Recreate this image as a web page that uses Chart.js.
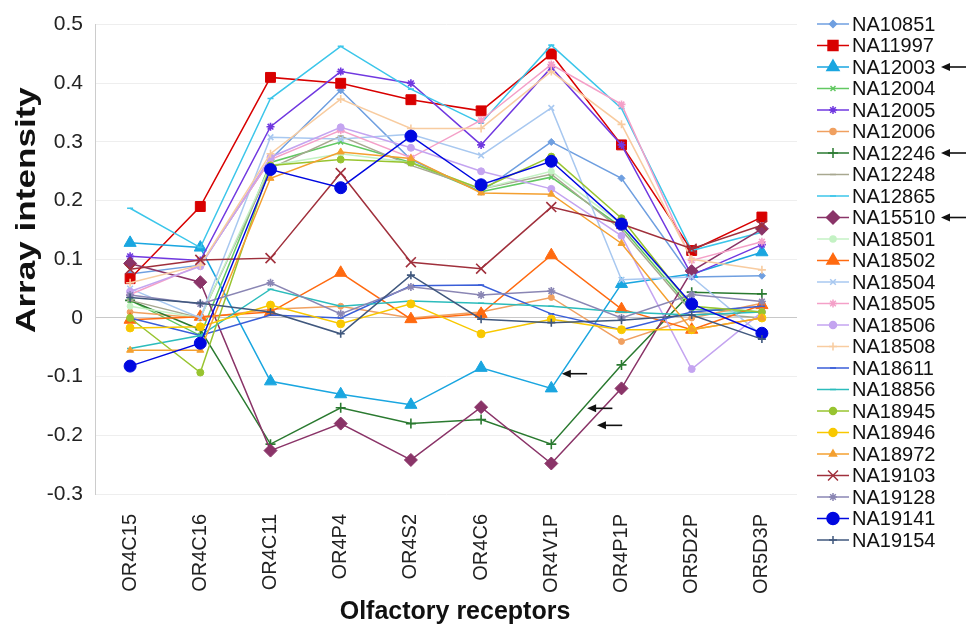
<!DOCTYPE html>
<html>
<head>
<meta charset="utf-8">
<script src="https://cdn.jsdelivr.net/npm/chart.js@4.4.1/dist/chart.umd.min.js"></script>
<style>
body { margin: 0; background: #fff; }
</style>
</head>
<body>
<canvas id="myChart" width="966" height="627"></canvas>
<script>
var receptors = ['OR4C15', 'OR4C16', 'OR4C11', 'OR4P4', 'OR4S2', 'OR4C6', 'OR4V1P', 'OR4P1P', 'OR5D2P', 'OR5D3P'];

// array intensity per sample, one value per receptor
var na10851 = [0.075, 0.09, 0.27, 0.388, 0.27, 0.215, 0.30, 0.238, 0.07, 0.072];
var na11997 = [0.067, 0.19, 0.41, 0.40, 0.372, 0.353, 0.45, 0.295, 0.115, 0.172];
var na12003 = [0.128, 0.12, -0.108, -0.13, -0.148, -0.085, -0.12, 0.058, 0.075, 0.112];
var na12004 = [0.03, -0.03, 0.265, 0.30, 0.265, 0.215, 0.24, 0.155, 0.015, 0.01];
var na12005 = [0.105, 0.098, 0.326, 0.42, 0.40, 0.295, 0.427, 0.295, 0.073, 0.125];
var na12006 = [0.01, 0.0, 0.015, 0.02, 0.0, 0.01, 0.035, -0.04, 0.0, 0.025];
var na12246 = [0.03, -0.02, -0.215, -0.153, -0.18, -0.173, -0.215, -0.08, 0.044, 0.041];
var na12248 = [0.03, 0.0, 0.255, 0.31, 0.26, 0.22, 0.245, 0.15, 0.01, 0.0];
var na12865 = [0.187, 0.12, 0.374, 0.463, 0.39, 0.332, 0.465, 0.357, 0.115, 0.146];
var na15510 = [0.093, 0.061, -0.226, -0.18, -0.242, -0.152, -0.248, -0.12, 0.08, 0.152];
var na18501 = [0.02, 0.0, 0.26, 0.28, 0.265, 0.22, 0.25, 0.16, 0.02, 0.01];
var na18502 = [-0.003, 0.002, 0.01, 0.077, -0.002, 0.007, 0.107, 0.015, -0.02, 0.022];
var na18504 = [0.05, 0.0, 0.308, 0.305, 0.313, 0.277, 0.358, 0.065, 0.07, -0.03];
var na18505 = [0.04, 0.09, 0.27, 0.32, 0.273, 0.337, 0.432, 0.364, 0.098, 0.13];
var na18506 = [0.045, 0.088, 0.274, 0.325, 0.29, 0.25, 0.22, 0.14, -0.087, 0.01];
var na18508 = [0.06, 0.09, 0.28, 0.373, 0.323, 0.323, 0.42, 0.33, 0.1, 0.082];
var na18611 = [0.0, -0.03, 0.005, 0.0, 0.055, 0.056, 0.007, -0.02, 0.01, 0.02];
var na18856 = [-0.052, -0.03, 0.049, 0.02, 0.029, 0.025, 0.02, 0.01, 0.005, 0.01];
var na18945 = [0.0, -0.093, 0.26, 0.27, 0.265, 0.22, 0.275, 0.17, 0.02, 0.01];
var na18946 = [-0.017, -0.015, 0.022, -0.01, 0.024, -0.027, -0.002, -0.02, -0.02, 0.0];
var na18972 = [-0.055, -0.055, 0.238, 0.283, 0.272, 0.213, 0.211, 0.127, -0.02, 0.0];
var na19103 = [0.083, 0.099, 0.102, 0.247, 0.095, 0.084, 0.189, 0.16, 0.118, 0.158];
var na19128 = [0.039, 0.024, 0.06, 0.007, 0.053, 0.039, 0.046, 0.0, 0.04, 0.028];
var na19141 = [-0.082, -0.043, 0.253, 0.222, 0.31, 0.227, 0.267, 0.16, 0.024, -0.026];
var na19154 = [0.035, 0.025, 0.01, -0.027, 0.073, -0.002, -0.008, -0.004, 0.005, -0.036];

var sampleNames = ['NA10851', 'NA11997', 'NA12003', 'NA12004', 'NA12005', 'NA12006', 'NA12246', 'NA12248',
    'NA12865', 'NA15510', 'NA18501', 'NA18502', 'NA18504', 'NA18505', 'NA18506', 'NA18508', 'NA18611',
    'NA18856', 'NA18945', 'NA18946', 'NA18972', 'NA19103', 'NA19128', 'NA19141', 'NA19154'];
var sampleValues = [na10851, na11997, na12003, na12004, na12005, na12006, na12246, na12248,
    na12865, na15510, na18501, na18502, na18504, na18505, na18506, na18508, na18611,
    na18856, na18945, na18946, na18972, na19103, na19128, na19141, na19154];
var highlighted = ['NA12003', 'NA12246', 'NA15510'];

var colors = ['#6f9fe0', '#d80000', '#1aa6e0', '#62c862', '#7038e0', '#f0a060', '#2a7a30', '#a8a890',
    '#3cc6ea', '#8a3468', '#c4f2c4', '#ff6a10', '#a8c8f0', '#f4a0c8', '#c4a4f0', '#f8cca0', '#3a5ed8',
    '#2cbcbc', '#98c430', '#f8c800', '#f4a030', '#a0303c', '#8a86b4', '#0008e0', '#40587e'];
var markers = ['rectRot', 'rect', 'triangle', 'crossRot', 'star', 'circle', 'cross', 'line',
    'line', 'rectRot', 'circle', 'triangle', 'crossRot', 'star', 'circle', 'cross', 'line',
    'line', 'circle', 'circle', 'triangle', 'crossRot', 'star', 'circle', 'cross'];
var markerSizes = [3.5, 7, 7, 3.5, 4, 3, 5, 3, 3, 6.5, 3, 7, 4, 4, 3.5, 4, 3, 3, 3.5, 4, 4, 7, 4, 6, 4];

var font = '"Liberation Sans", Arial, sans-serif';

function arrow(ctx, x0, y0, x1, y1) {
    ctx.strokeStyle = '#111';
    ctx.fillStyle = '#111';
    ctx.lineWidth = 1.6;
    ctx.beginPath();
    ctx.moveTo(x0, y0);
    ctx.lineTo(x1 + 6, y1);
    ctx.stroke();
    ctx.beginPath();
    ctx.moveTo(x1, y1);
    ctx.lineTo(x1 + 9, y1 - 4);
    ctx.lineTo(x1 + 9, y1 + 4);
    ctx.closePath();
    ctx.fill();
}

var extras = {
    id: 'extras',
    afterDraw: function (chart) {
        var ctx = chart.ctx;
        var xs = chart.scales.x, ys = chart.scales.y;
        ctx.save();

        // legend
        chart.data.datasets.forEach(function (ds, i) {
            var y = 24 + i * 21.5;
            ctx.strokeStyle = ds.borderColor;
            ctx.lineWidth = 1.5;
            ctx.beginPath();
            ctx.moveTo(817, y);
            ctx.lineTo(849, y);
            ctx.stroke();
            ctx.fillStyle = ds.pointBackgroundColor;
            Chart.helpers.drawPoint(ctx, {
                pointStyle: ds.pointStyle, radius: ds.pointRadius, rotation: 0, borderWidth: ds.pointBorderWidth
            }, 833, y);
            ctx.fillStyle = '#111';
            ctx.font = '20px ' + font;
            ctx.textAlign = 'left';
            ctx.textBaseline = 'middle';
            ctx.fillText(ds.label, 852, y + 1);
            if (highlighted.indexOf(ds.label) >= 0) {
                arrow(ctx, 966, y, 941, y);
            }
        });

        // arrows in the plot pointing at the highlighted samples
        arrow(ctx, xs.getPixelForValue(6.51), ys.getPixelForValue(-0.095), xs.getPixelForValue(6.15), ys.getPixelForValue(-0.095));
        arrow(ctx, xs.getPixelForValue(6.87), ys.getPixelForValue(-0.154), xs.getPixelForValue(6.51), ys.getPixelForValue(-0.154));
        arrow(ctx, xs.getPixelForValue(7.01), ys.getPixelForValue(-0.183), xs.getPixelForValue(6.65), ys.getPixelForValue(-0.183));

        // axis titles
        ctx.fillStyle = '#111';
        ctx.textAlign = 'center';
        ctx.textBaseline = 'middle';
        ctx.font = 'bold 25px ' + font;
        ctx.fillText('Olfactory receptors', 455, 612);

        ctx.translate(28, 210);
        ctx.rotate(-Math.PI / 2);
        ctx.scale(1.3, 1);
        ctx.font = 'bold 27px ' + font;
        ctx.fillText('Array intensity', 0, 0);
        ctx.restore();
    }
};

var datasets = sampleNames.map(function (name, i) {
    var stroked = ['cross', 'crossRot', 'star', 'line'].indexOf(markers[i]) >= 0;
    return {
        label: name,
        data: sampleValues[i],
        borderColor: colors[i],
        backgroundColor: colors[i],
        pointBackgroundColor: colors[i],
        pointBorderColor: colors[i],
        pointStyle: markers[i],
        pointRadius: markerSizes[i],
        pointBorderWidth: stroked ? 1.6 : 1,
        borderWidth: 1.5,
        tension: 0,
        order: sampleNames.length - i
    };
});

var ctx = document.getElementById('myChart').getContext('2d');
var myChart = new Chart(ctx, {
    type: 'line',
    data: {
        labels: receptors,
        datasets: datasets
    },
    options: {
        responsive: false,
        animation: false,
        devicePixelRatio: 1,
        layout: { padding: { left: 0, right: 169, top: 21, bottom: 0 } },
        plugins: {
            legend: { display: false },
            tooltip: { enabled: false }
        },
        scales: {
            x: {
                offset: true,
                grid: { display: false },
                border: { display: false },
                ticks: {
                    autoSkip: false,
                    minRotation: 90,
                    maxRotation: 90,
                    padding: 12,
                    color: '#222',
                    font: { size: 20, family: font }
                },
                afterFit: function (scale) { scale.height = 133; }
            },
            y: {
                min: -0.3,
                max: 0.5,
                grid: {
                    drawTicks: false,
                    color: function (c) { return c.tick && c.tick.value === 0 ? '#c8c8c8' : '#eeeeee'; }
                },
                border: { color: '#cccccc' },
                ticks: {
                    stepSize: 0.1,
                    padding: 12,
                    color: '#222',
                    font: { size: 21, family: font },
                    callback: function (v) { return String(Math.round(v * 10) / 10); }
                },
                afterFit: function (scale) { scale.width = 95; }
            }
        }
    },
    plugins: [extras]
});
</script>
</body>
</html>
